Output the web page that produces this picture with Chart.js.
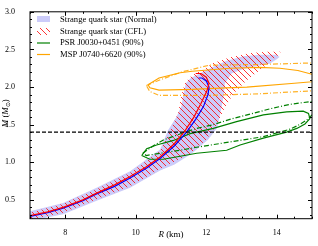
<!DOCTYPE html>
<html>
<head>
<meta charset="utf-8">
<script src="https://cdn.jsdelivr.net/npm/chart.js@4"></script>
<style>
  body { margin: 0; background: #fff; }
  canvas { display: block; }
</style>
</head>
<body>
<canvas id="massRadius" width="318" height="246"></canvas>
<script>
// axis ticks
const xMajor = [8, 10, 12, 14];
const yMajor = [0.5, 1.0, 1.5, 2.0, 2.5, 3.0];

// Strange quark star (Normal) band, upper-left edge then lower-right edge, [R, M]
const normalUpper = [[7.0, 0.35], [7.94, 0.46], [8.89, 0.66], [9.84, 0.88], [10.69, 1.17], [10.92, 1.43], [11.15, 1.6], [11.3, 1.75], [11.35, 1.9], [11.42, 2.05], [11.56, 2.12], [11.82, 2.18], [12.2, 2.27], [12.58, 2.35], [13.05, 2.41], [13.52, 2.43], [14.0, 2.43], [14.08, 2.4]];
const normalLower = [[14.0, 2.37], [13.8, 2.31], [13.43, 2.28], [13.05, 2.24], [12.72, 2.18], [12.53, 2.05], [12.5, 1.9], [12.44, 1.74], [12.34, 1.52], [12.3, 1.45], [12.05, 1.3], [11.6, 1.12], [11.1, 0.97], [10.69, 0.89], [9.84, 0.66], [8.89, 0.49], [7.94, 0.31], [7.0, 0.22]];

// Strange quark star (CFL) hatched band
const cflUpper = [[7.0, 0.33], [7.94, 0.45], [8.89, 0.64], [9.84, 0.86], [10.69, 1.15], [10.95, 1.4], [11.2, 1.65], [11.3, 1.9], [11.4, 2.06], [11.6, 2.16], [11.9, 2.23], [12.2, 2.32], [12.7, 2.4], [13.2, 2.45], [13.7, 2.47], [14.1, 2.47]];
const cflLower = [[14.1, 2.45], [13.7, 2.29], [13.15, 2.09], [12.77, 1.91], [12.5, 1.7], [12.3, 1.5], [12.0, 1.3], [11.5, 1.1], [10.69, 0.91], [9.84, 0.68], [8.89, 0.51], [7.94, 0.33], [7.0, 0.24]];

// single M-R curves
const blueCurve = [[7.0, 0.28], [7.5, 0.33], [7.94, 0.39], [8.5, 0.49], [8.89, 0.58], [9.4, 0.68], [9.84, 0.79], [10.3, 0.92], [10.69, 1.05], [11.1, 1.22], [11.44, 1.4], [11.7, 1.57], [11.92, 1.74], [12.05, 1.9], [12.08, 2.0], [12.0, 2.08], [11.88, 2.12], [11.78, 2.12]];
const redCurve = [[7.0, 0.29], [7.5, 0.34], [7.94, 0.4], [8.5, 0.5], [8.89, 0.59], [9.4, 0.7], [9.84, 0.81], [10.3, 0.94], [10.69, 1.07], [11.1, 1.25], [11.4, 1.42], [11.65, 1.6], [11.85, 1.78], [12.02, 1.95], [12.08, 2.05], [12.0, 2.13], [11.85, 2.18], [11.7, 2.18]];

// PSR J0030+0451 contours
const psrSolid = [[10.17, 1.09], [10.31, 1.18], [10.59, 1.23], [11.07, 1.29], [11.54, 1.38], [12.2, 1.45], [12.86, 1.54], [13.62, 1.63], [14.28, 1.67], [14.75, 1.68], [14.9, 1.65], [14.94, 1.58], [14.8, 1.51], [14.57, 1.45], [14.28, 1.4], [13.62, 1.32], [12.96, 1.23], [12.58, 1.16], [11.73, 1.12], [11.26, 1.08], [10.78, 1.04], [10.4, 1.04], [10.17, 1.09]];
const psrDash = [[10.2, 1.12], [10.5, 1.22], [10.8, 1.3], [11.4, 1.4], [11.73, 1.45], [12.2, 1.5], [12.67, 1.57], [13.33, 1.65], [13.8, 1.71], [14.38, 1.77], [15.0, 1.81], [15.3, 1.83], [15.3, 1.7], [15.0, 1.63], [14.85, 1.56], [14.6, 1.49], [14.38, 1.44], [13.62, 1.34], [12.67, 1.27], [11.73, 1.2], [11.26, 1.16], [10.7, 1.12], [10.3, 1.09], [10.2, 1.12]];

// MSP J0740+6620 contours
const mspSolid = [[10.35, 2.03], [10.66, 2.12], [11.26, 2.19], [11.6, 2.21], [12.67, 2.25], [13.5, 2.26], [14.09, 2.25], [14.6, 2.22], [15.0, 2.17], [15.2, 2.12], [15.0, 2.07], [14.5, 2.05], [13.15, 2.0], [12.55, 1.99], [11.6, 1.97], [10.66, 1.96], [10.4, 1.99], [10.35, 2.03]];
const mspDash = [[10.3, 2.02], [10.66, 2.09], [11.3, 2.2], [12.08, 2.29], [13.5, 2.3], [15.0, 2.32], [15.3, 2.3], [15.3, 1.96], [15.0, 1.95], [13.5, 1.91], [12.08, 1.89], [10.66, 1.89], [10.4, 1.94], [10.3, 2.02]];

const canonicalMass = 1.4;

const serif = 'Liberation Serif';
const bandColor = 'rgb(204, 204, 250)';

function pts(arr) {
    return arr.map(p => ({x: p[0], y: p[1]}));
}

function band(upper, lower) {
    const all = upper.concat(lower);
    all.push(upper[0]);
    return pts(all);
}

// red "\\" hatch pattern
function makeHatch() {
    const c = document.createElement('canvas');
    c.width = 6; c.height = 6;
    const g = c.getContext('2d');
    g.strokeStyle = 'red';
    g.lineWidth = 0.8;
    g.beginPath();
    g.moveTo(-1, -1); g.lineTo(7, 7);
    g.moveTo(-1, 5); g.lineTo(1, 7);
    g.moveTo(5, -1); g.lineTo(7, 1);
    g.stroke();
    return g.createPattern(c, 'repeat');
}
const hatch = makeHatch();

const lineDs = (label, data, color, dash, order) => ({
    label: label,
    data: pts(data),
    showLine: true,
    pointRadius: 0,
    borderColor: color,
    borderWidth: 1.2,
    borderDash: dash,
    fill: false,
    tension: 0,
    order: order
});

const datasets = [
    {label: 'Strange quark star (Normal)', data: band(normalUpper, normalLower), showLine: true, pointRadius: 0,
        borderWidth: 0, borderColor: 'rgba(0,0,0,0)', backgroundColor: bandColor, fill: 'shape', order: 9},
    {label: 'Strange quark star (CFL)', data: band(cflUpper, cflLower), showLine: true, pointRadius: 0,
        borderWidth: 0, borderColor: 'rgba(0,0,0,0)', backgroundColor: hatch, fill: 'shape', order: 8},
    lineDs('PSR J0030+0451 (90%)', psrSolid, 'green', [], 5),
    lineDs('psr dash', psrDash, 'green', [5, 2, 1, 2], 6),
    lineDs('MSP J0740+6620 (90%)', mspSolid, 'orange', [], 4),
    lineDs('msp dash', mspDash, 'rgba(255,165,0,0.85)', [5, 2, 1, 2], 7),
    lineDs('blue', blueCurve, 'blue', [], 2),
    lineDs('red', redCurve, 'red', [], 1),
    lineDs('1.4', [[7, canonicalMass], [15, canonicalMass]], 'black', [4, 2], 0)
];

const frame = {
    id: 'frame',
    afterDraw(chart) {
        const {ctx, chartArea: a, scales: {x, y}} = chart;
        ctx.save();
        ctx.strokeStyle = '#000';
        ctx.lineWidth = 1;
        ctx.strokeRect(a.left, a.top, a.right - a.left, a.bottom - a.top);

        // inward ticks on all sides
        ctx.beginPath();
        for (let v = 7; v <= 15.001; v += 0.5) {
            const px = Math.round(x.getPixelForValue(v)) + 0.5;
            const len = xMajor.includes(Math.round(v * 10) / 10) ? 4 : 2;
            ctx.moveTo(px, a.bottom); ctx.lineTo(px, a.bottom - len);
            ctx.moveTo(px, a.top); ctx.lineTo(px, a.top + len);
        }
        for (let v = 0.3; v <= 3.001; v += 0.1) {
            const py = Math.round(y.getPixelForValue(v)) + 0.5;
            const r = Math.round(v * 10) / 10;
            const len = yMajor.includes(r) ? 4 : 2;
            ctx.moveTo(a.left, py); ctx.lineTo(a.left + len, py);
            ctx.moveTo(a.right, py); ctx.lineTo(a.right - len, py);
        }
        ctx.stroke();

        // axis titles
        ctx.fillStyle = '#000';
        ctx.textBaseline = 'middle';
        ctx.font = 'italic 9px ' + serif;
        const r1 = ctx.measureText('R').width;
        ctx.font = '9px ' + serif;
        const r2 = ctx.measureText(' (km)').width;
        let sx = (a.left + a.right) / 2 - (r1 + r2) / 2;
        ctx.font = 'italic 9px ' + serif;
        ctx.fillText('R', sx, 235);
        ctx.font = '9px ' + serif;
        ctx.fillText(' (km)', sx + r1, 235);

        ctx.save();
        ctx.translate(6, (a.top + a.bottom) / 2 - 2);
        ctx.rotate(-Math.PI / 2);
        const parts = [['M', 'italic 9px ', 0], [' (', '9px ', 0], ['M', 'italic 9px ', 0], ['\u2299', '6px ', 2], [')', '9px ', 0]];
        let tw = 0;
        parts.forEach(p => { ctx.font = p[1] + serif; tw += ctx.measureText(p[0]).width; });
        let cx = -tw / 2;
        parts.forEach(p => {
            ctx.font = p[1] + serif;
            ctx.fillText(p[0], cx, p[2]);
            cx += ctx.measureText(p[0]).width;
        });
        ctx.restore();

        // legend
        const lx = 37, lw = 13, tx = 60;
        ctx.font = '8.6px ' + serif;
        ctx.fillStyle = bandColor;
        ctx.fillRect(lx, 16, lw, 6);
        ctx.save();
        ctx.beginPath();
        ctx.rect(lx, 28, lw, 7);
        ctx.clip();
        ctx.fillStyle = hatch;
        ctx.fillRect(lx, 28, lw, 7);
        ctx.restore();
        ctx.lineWidth = 1.2;
        ctx.strokeStyle = 'green';
        ctx.beginPath(); ctx.moveTo(lx, 43); ctx.lineTo(lx + lw, 43); ctx.stroke();
        ctx.strokeStyle = 'orange';
        ctx.beginPath(); ctx.moveTo(lx, 54.5); ctx.lineTo(lx + lw, 54.5); ctx.stroke();
        ctx.fillStyle = '#000';
        ctx.fillText(datasets[0].label, tx, 19.5);
        ctx.fillText(datasets[1].label, tx, 31.5);
        ctx.fillText(datasets[2].label, tx, 43);
        ctx.fillText(datasets[4].label, tx, 54.5);
        ctx.restore();
    }
};

new Chart(document.getElementById('massRadius').getContext('2d'), {
    type: 'scatter',
    data: {datasets: datasets},
    options: {
        responsive: false,
        animation: false,
        layout: {padding: {top: 10, right: 6, left: 0, bottom: 0}},
        plugins: {legend: {display: false}, tooltip: {enabled: false}},
        scales: {
            x: {
                type: 'linear', min: 7, max: 15,
                afterBuildTicks: s => { s.ticks = xMajor.map(v => ({value: v})); },
                afterFit: s => { s.height = 27.3; },
                grid: {display: false},
                border: {display: false},
                ticks: {padding: 1, color: '#000', font: {family: serif, size: 8}, callback: v => String(v)}
            },
            y: {
                type: 'linear', min: 0.25, max: 3.0,
                afterBuildTicks: s => { s.ticks = yMajor.map(v => ({value: v})); },
                afterFit: s => { s.width = 30; },
                grid: {display: false},
                border: {display: false},
                ticks: {padding: 7, color: '#000', font: {family: serif, size: 8}, callback: v => v.toFixed(1)}
            }
        }
    },
    plugins: [frame]
});
</script>
</body>
</html>
